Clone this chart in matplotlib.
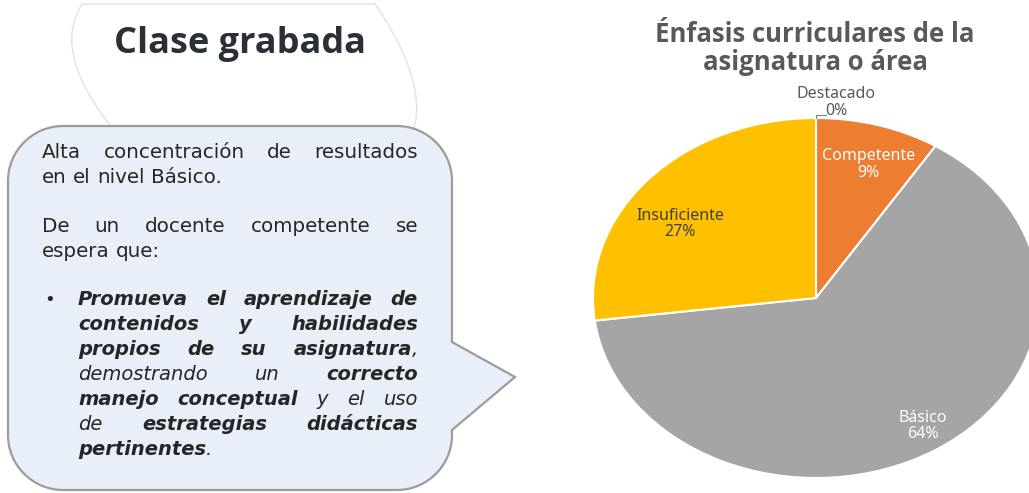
import matplotlib
matplotlib.use("Agg")
import matplotlib.pyplot as plt
from matplotlib.path import Path
from matplotlib.patches import PathPatch

W, H = 1029, 493

# pie data (clockwise from 12 o'clock)
categories = ["Destacado", "Competente", "Básico", "Insuficiente"]
values = [0, 9, 64, 27]
colors = ["#5B9BD5", "#ED7D31", "#A5A5A5", "#FFC000"]
label_colors = ["#595959", "white", "white", "#404040"]

chart_title = ["Énfasis curriculares de la", "asignatura o área"]
panel_title = "Clase grabada"

# bubble text: each line is a list of (text, style); "i+" joins without a space
# style: n = regular, i = italic, bi = bold italic
lines = [
    [("Alta concentración de resultados", "n")],
    [("en el nivel Básico.", "n")],
    [("De un docente competente se", "n")],
    [("espera que:", "n")],
    [("Promueva el aprendizaje de", "bi")],
    [("contenidos y habilidades", "bi")],
    [("propios de su asignatura", "bi"), (",", "i+")],
    [("demostrando un", "i"), ("correcto", "bi")],
    [("manejo conceptual", "bi"), ("y el uso", "i")],
    [("de", "i"), ("estrategias didácticas", "bi")],
    [("pertinentes", "bi"), (".", "i+")],
]
justify = [True, False, True, False, True, True, True, True, True, True, False]
baselines = [158, 183, 232, 257, 305, 330, 355, 380, 405, 430, 455]
indent = [42, 42, 42, 42, 78, 78, 78, 78, 78, 78, 78]
right_edge = 418

fig = plt.figure(figsize=(W / 100, H / 100), dpi=100)
bg = fig.add_axes([0, 0, 1, 1])
bg.set_xlim(0, W)
bg.set_ylim(H, 0)
bg.axis("off")

# faint blob behind the title
blob = Path(
    [(82, 4), (60, 40), (75, 80), (112, 128),
     (250, 128), (414, 128),
     (425, 90), (400, 40), (375, 4),
     (230, 4), (82, 4)],
    [Path.MOVETO, Path.CURVE4, Path.CURVE4, Path.CURVE4,
     Path.LINETO, Path.LINETO,
     Path.CURVE4, Path.CURVE4, Path.CURVE4,
     Path.LINETO, Path.CLOSEPOLY])
bg.add_patch(PathPatch(blob, facecolor="white", edgecolor="#e2e2e2", lw=1.0))

# speech bubble with pointer on the right side
L, R, T, B, r = 8, 452, 126, 490, 55
k = 0.55 * r
verts = [
    (L + r, T), (R - r, T),
    (R - r + k, T), (R, T + r - k), (R, T + r),
    (R, 342), (515, 377), (R, 430), (R, B - r),
    (R, B - r + k), (R - r + k, B), (R - r, B),
    (L + r, B),
    (L + r - k, B), (L, B - r + k), (L, B - r),
    (L, T + r),
    (L, T + r - k), (L + r - k, T), (L + r, T),
    (L + r, T),
]
codes = [
    Path.MOVETO, Path.LINETO,
    Path.CURVE4, Path.CURVE4, Path.CURVE4,
    Path.LINETO, Path.LINETO, Path.LINETO, Path.LINETO,
    Path.CURVE4, Path.CURVE4, Path.CURVE4,
    Path.LINETO,
    Path.CURVE4, Path.CURVE4, Path.CURVE4,
    Path.LINETO,
    Path.CURVE4, Path.CURVE4, Path.CURVE4,
    Path.CLOSEPOLY,
]
bg.add_patch(PathPatch(Path(verts, codes), facecolor="#e8eff8",
                       edgecolor="#9c9c9c", lw=1.6))

bg.text(240, 53, panel_title, fontsize=26, fontweight="bold",
        family="Open Sans", color="#2b2f36", ha="center", va="baseline")

# justified bubble text
renderer = fig.canvas.get_renderer()
ink = "#262626"
styles = {
    "n": dict(family="DejaVu Sans", fontsize=14.3),
    "i": dict(family="DejaVu Sans", fontsize=14, style="italic"),
    "i+": dict(family="DejaVu Sans", fontsize=14, style="italic"),
    "bi": dict(family="DejaVu Sans", fontsize=14, style="italic",
               fontweight="bold"),
}

t1 = bg.text(0, 0, "a a", **styles["n"])
t2 = bg.text(0, 0, "aa", **styles["n"])
space = t1.get_window_extent(renderer).width - t2.get_window_extent(renderer).width
t1.remove()
t2.remove()

for segs, just, yb, x0 in zip(lines, justify, baselines, indent):
    words = []
    for txt, st in segs:
        for j, w in enumerate(txt.split(" ")):
            words.append((w, st, st == "i+" and j == 0))
    arts, widths = [], []
    for w, st, glue in words:
        t = bg.text(0, yb, w, va="baseline", ha="left", color=ink, **styles[st])
        arts.append(t)
        widths.append(t.get_window_extent(renderer).width)
    n_gaps = sum(1 for w in words[1:] if not w[2])
    if just and n_gaps:
        gap = (right_edge - x0 - sum(widths)) / n_gaps
    else:
        gap = space
    x = x0
    for i, (t, wd) in enumerate(zip(arts, widths)):
        if i > 0 and not words[i][2]:
            x += gap
        t.set_x(x)
        x += wd

bg.text(50, 305, "•", va="baseline", ha="center", color=ink,
        family="DejaVu Sans", fontsize=13)

# pie chart, stretched into an ellipse
cx, cy, rx, ry = 816, 298, 223, 180
pax = fig.add_axes([(cx - rx) / W, (H - cy - ry) / H, 2 * rx / W, 2 * ry / H])
wedges, _ = pax.pie(values, colors=colors, startangle=90, counterclock=False,
                    wedgeprops=dict(edgecolor="white", linewidth=1.5))
pax.set_aspect("auto")
pax.set_xlim(-1, 1)
pax.set_ylim(-1, 1)

# label anchors: Destacado, Competente, Básico, Insuficiente
label_pos = [(0.09, 1.085), (0.235, 0.74), (0.48, -0.71), (-0.61, 0.41)]
for cat, v, c, (lx, ly) in zip(categories, values, label_colors, label_pos):
    pax.text(lx, ly, f"{cat}\n{v}%", ha="center", va="center", color=c,
             fontsize=11.5, family="Noto Sans", linespacing=1.05, clip_on=False)
pax.plot([0.0, 0.0, 0.045], [1.0, 1.018, 1.018], color="#7f7f7f", lw=0.8,
         clip_on=False)

for line, yb in zip(chart_title, [42, 70]):
    bg.text(815, yb, line, ha="center", va="baseline", fontsize=18.5,
            fontweight="bold", family="Open Sans", color="#595959")

fig.savefig("out.png", dpi=100)
